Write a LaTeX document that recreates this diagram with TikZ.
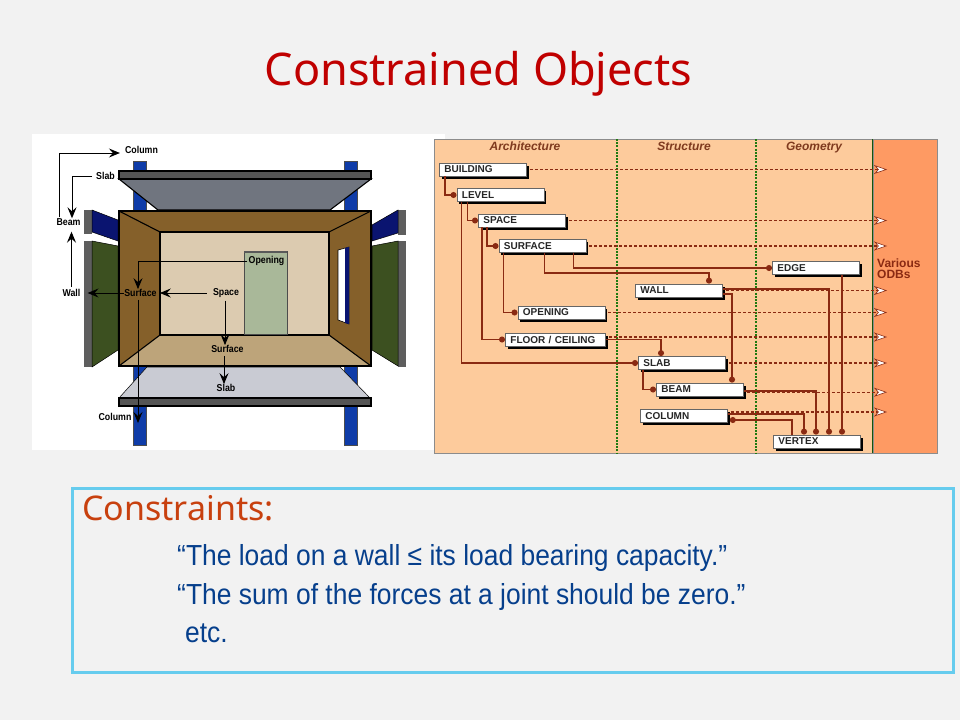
\documentclass[tikz,border=0pt]{standalone}
\usepackage{fontspec}
\setmainfont{Liberation Sans}
\newfontfamily\titlefont{Noto Sans}
\usetikzlibrary{arrows.meta,shadows,calc}
\definecolor{bg}{HTML}{F2F2F2}
\definecolor{peach}{HTML}{FDCB9C}
\definecolor{odbor}{HTML}{FE9A63}
\definecolor{conn}{HTML}{8A2A12}
\definecolor{hdr}{HTML}{7F3A1E}
\definecolor{dgreen}{HTML}{1F7A10}
\definecolor{brownw}{HTML}{85602A}
\definecolor{backw}{HTML}{DCCBB0}
\definecolor{floorw}{HTML}{BDA47A}
\definecolor{navyb}{HTML}{0A1470}
\definecolor{colb}{HTML}{0F3CA8}
\definecolor{greenp}{HTML}{3C5020}
\definecolor{greyp}{HTML}{5E5E5E}
\definecolor{slabt}{HTML}{70757F}
\definecolor{slabb}{HTML}{C9CBD3}
\definecolor{slabd}{HTML}{555555}
\definecolor{doorg}{HTML}{A9B899}
\definecolor{titlered}{HTML}{C00000}
\definecolor{orangetxt}{HTML}{C8400E}
\definecolor{bluetxt}{HTML}{063F8C}
\definecolor{boxline}{HTML}{66CCEE}
\tikzset{
  x=1pt,y=-1pt,
  obox/.style={draw=gray!80!black,line width=.8pt,fill=white,anchor=west,minimum height=13pt,
    text width=77pt,inner xsep=5pt,inner ysep=0pt,align=left,font=\fontsize{10}{10}\selectfont\bfseries,text=black!85,
    drop shadow={shadow xshift=2.5pt,shadow yshift=-2.5pt,fill=black,opacity=1}},
  rel/.style={draw=conn,line width=1.3pt},
  relend/.style={rel,-{Circle[length=6pt,width=6pt]}},
  odbline/.style={draw=conn,line width=1.1pt,dash pattern=on 3pt off 2pt,
    -{Stealth[length=13pt,width=9pt,inset=4pt,fill=white,color=conn,line width=.6pt]}},
  hdrtxt/.style={font=\fontsize{12}{14}\selectfont\bfseries\itshape,text=hdr,inner sep=0pt,anchor=base},
  lbl/.style={font=\fontsize{10}{12}\selectfont\bfseries,text=black,inner sep=0pt},
  bk/.style={draw=black,line width=1.1pt},
  arr/.style={draw=black,line width=1pt,-{Stealth[length=11pt,width=9pt,inset=4pt]}},
  bodytxt/.style={font=\fontsize{29}{32}\selectfont,text=bluetxt,anchor=west,inner sep=0pt},
}
\newcommand{\nw}[1]{\scalebox{.88}[1]{#1}}
\newcommand{\bw}[1]{\scalebox{.911}[1]{#1}}
\begin{document}
\begin{tikzpicture}
\useasboundingbox (0,0) rectangle (960,720);
\fill[bg] (0,0) rectangle (960,720);
\node[font=\titlefont\fontsize{45}{52}\selectfont,text=titlered,inner sep=0pt] (title) at (478.5,74) {Constrained Objects};

% left picture
\fill[white] (32,134) rectangle (445,450);
% columns
\fill[colb,draw=black!70,line width=.6pt] (133,161) rectangle (146,445);
\fill[colb,draw=black!70,line width=.6pt] (344,161) rectangle (357,445);
% top slab
\filldraw[fill=slabt,bk] (119,179) -- (371,179) -- (330,210) -- (158,210) -- cycle;
\filldraw[fill=slabd,bk] (119,171) rectangle (371,179);
% bottom slab
\filldraw[fill=slabb,draw=black,line width=.5pt] (147,367) -- (340,367) -- (370,398) -- (119,398) -- cycle;
\filldraw[fill=slabd,bk] (119,398) rectangle (371,406);
% left panels
\fill[greyp] (84,210) rectangle (92,234);
\fill[navyb,draw=black,line width=.5pt] (92,210) -- (118,220) -- (118,241) -- (92,232) -- cycle;
\fill[greyp] (84,241) rectangle (92,367);
\fill[greenp,draw=black,line width=.5pt] (92,241) -- (118,246) -- (118,350) -- (92,367) -- cycle;
% right panels
\fill[greyp] (398,210) rectangle (406,235);
\fill[navyb,draw=black,line width=.5pt] (372,225) -- (398,210) -- (398,233) -- (372,241) -- cycle;
\fill[greyp] (398,241) rectangle (406,367);
\fill[greenp,draw=black,line width=.5pt] (372,246) -- (398,241) -- (398,366) -- (372,350) -- cycle;
% room
\filldraw[fill=brownw,draw=black,line width=1.6pt] (119,211) rectangle (371,366);
\fill[floorw] (160,335) -- (329,335) -- (371,366) -- (119,366) -- cycle;
\filldraw[fill=backw,bk] (160,232) rectangle (329,335);
\draw[bk] (119,211) -- (160,232) (371,211) -- (329,232) (119,366) -- (160,335) (371,366) -- (329,335);
\draw[draw=black,line width=1.6pt] (119,211) rectangle (371,366);
% door
\filldraw[fill=doorg,draw=black!70,line width=.7pt] (244,251) rectangle (287,334);
\fill[black!65] (244,251) rectangle (287,253);
% window
\fill[white,draw=black,line width=.6pt] (338,250) -- (349,247) -- (349,324) -- (338,320) -- cycle;
\fill[navyb] (345,248) -- (349,247) -- (349,324) -- (345,323) -- cycle;
% labels
\node[lbl] (colT) at (141.5,150) {\nw{Column}};
\node[lbl] (slabT) at (105.5,176) {\nw{Slab}};
\node[lbl] (beamT) at (68.5,222) {\nw{Beam}};
\node[lbl] (wallT) at (71.5,293) {\nw{Wall}};
\node[lbl] (surfL) at (140.5,293) {\nw{Surface}};
\node[lbl] (spaceT) at (226,293) {\nw{Space}};
\node[lbl] (openT) at (266.5,261) {\nw{Opening}};
\node[lbl] (surfF) at (227.5,349) {\nw{Surface}};
\node[lbl] (slabF) at (226,388) {\nw{Slab}};
\node[lbl] (colF) at (115,417) {\nw{Column}};
% arrows
\coordinate (sd) at ([xshift=-2.5pt]surfL.south);
\draw[arr] ([xshift=-9.5pt]beamT.north) ++(0,-1) |- ([shift={(-5pt,-3pt)}]colT.west);
\draw[arr] ([xshift=-4pt]slabT.west) -| ([xshift=3.5pt]beamT.north);
\draw[arr] (wallT.north) ++(0,-2) -- ([shift={(0pt,-6pt)}]beamT.south -| wallT.north);
\draw[arr] ([xshift=-1pt]openT.west) -| ([xshift=-2.5pt]surfL.north);
\draw[arr] (surfL.west) -- ([xshift=7pt]wallT.east);
\draw[arr] ([xshift=-6pt]spaceT.west) -- ([xshift=3pt]surfL.east);
\draw[arr] (sd) ++(0,3) -- ([yshift=-6pt]sd |- colF.center);
\draw[arr] (spaceT.south) ++(-1,3) -- ([shift={(-2.5pt,0pt)}]surfF.north);
\draw[arr] ([xshift=-3.5pt]surfF.south) ++(0,3) -- ([shift={(-2pt,0pt)}]slabF.north);

% right panel
\filldraw[fill=peach,draw=black!45,line width=.8pt] (434,139) rectangle (873,453);
\filldraw[fill=odbor,draw=black!45,line width=.6pt] (873,139) rectangle (937,453);
\draw[dgreen!70!black,line width=1.2pt] (872.5,139) -- (872.5,453);
\draw[dgreen,line width=2.2pt,dash pattern=on 2pt off 1.2pt] (617,139) -- (617,453);
\draw[dgreen,line width=2.2pt,dash pattern=on 2pt off 1.2pt] (756,139) -- (756,453);
\node[hdrtxt] (hA) at (525,150) {Architecture};
\node[hdrtxt] (hS) at (684,150) {Structure};
\node[hdrtxt] (hG) at (814,150) {Geometry};
\node[font=\fontsize{12}{11}\selectfont\bfseries,text=conn,align=left,anchor=west,inner sep=0pt] (odb) at (877,268.5) {Various\\ODBs};

\coordinate (tipx) at (887,0);
\node[obox] (building) at (439,169.5) {BUILDING};
\node[obox] (level) at (456.5,195) {LEVEL};
\node[obox] (space) at (478,220.5) {SPACE};
\node[obox] (surface) at (498.5,246) {SURFACE};
\node[obox] (opening) at (517.5,312.5) {OPENING};
\node[obox,text width=90pt] (floorc) at (505,339.5) {FLOOR / CEILING};
\node[obox] (wall) at (635,290.5) {WALL};
\node[obox] (slab) at (638,363) {SLAB};
\node[obox] (beam) at (656,389.5) {BEAM};
\node[obox] (column) at (640,416) {COLUMN};
\node[obox] (edge) at (772,268) {EDGE};
\node[obox] (vertex) at (773,441.5) {VERTEX};

% dashed links to the databases
\foreach \n/\dy in {building/0,space/0,surface/0,opening/0,floorc/2.5,slab/0,wall/0,beam/-2.7,column/4}{
  \draw[odbline] ([shift={(3pt,\dy pt)}]\n.east) -- ([yshift=\dy pt]\n.east -| tipx);
}
% hierarchy
\draw[relend] ([xshift=6pt]building.south west) |- (level.west);
\draw[relend] ([xshift=11pt]level.south west) |- (space.west);
\draw[relend] ([xshift=9pt]space.south west) |- (surface.west);
\draw[relend] ([xshift=5pt]level.south west) |- (slab.west);
\draw[relend] ([xshift=4pt]space.south west) |- (floorc.west);
\draw[relend] ([xshift=5pt]surface.south west) |- (opening.west);
\draw[relend] ([xshift=75pt]surface.south west) |- (edge.west);
\draw[relend] ([xshift=46pt]surface.south west) |- ++(0,20) -| ([xshift=74pt]wall.north west);
\draw[relend] ([xshift=70pt]edge.south west) -- ([xshift=69pt]vertex.north west);
\draw[relend] ([yshift=1.5pt]wall.east) -| ([xshift=56pt]vertex.north west);
\draw[relend] ([yshift=-3.5pt]wall.east) -| ([xshift=76pt]beam.north west);
\draw[relend] (floorc.east) -| ([xshift=23pt]slab.north west);
\draw[relend] ([xshift=5pt]slab.south west) |- (beam.west);
\draw[relend] ([yshift=-1.5pt]beam.east) -| ([xshift=43pt]vertex.north west);
\draw[relend] ([yshift=2pt]column.east) -| ([xshift=31pt]vertex.north west);
\draw[rel,{Circle[length=6pt,width=6pt]}-] ([shift={(2pt,-4pt)}]column.east) -| ([xshift=19pt]vertex.north west);

% constraints box
\filldraw[fill=bg,draw=boxline,line width=3pt] (72,488) rectangle (953,672);
\node[font=\titlefont\fontsize{34}{40}\selectfont,text=orangetxt,anchor=west,inner sep=0pt] (ctitle) at (82,508) {Constraints:};
\node[bodytxt] (c1) at (177,558) {\bw{“The load on a wall ≤ its load bearing capacity.”}};
\node[bodytxt] (c2) at (177,597) {\bw{“The sum of the forces at a joint should be zero.”}};
\node[bodytxt] (c3) at (185,633) {\bw{etc.}};
\end{tikzpicture}
\end{document}
